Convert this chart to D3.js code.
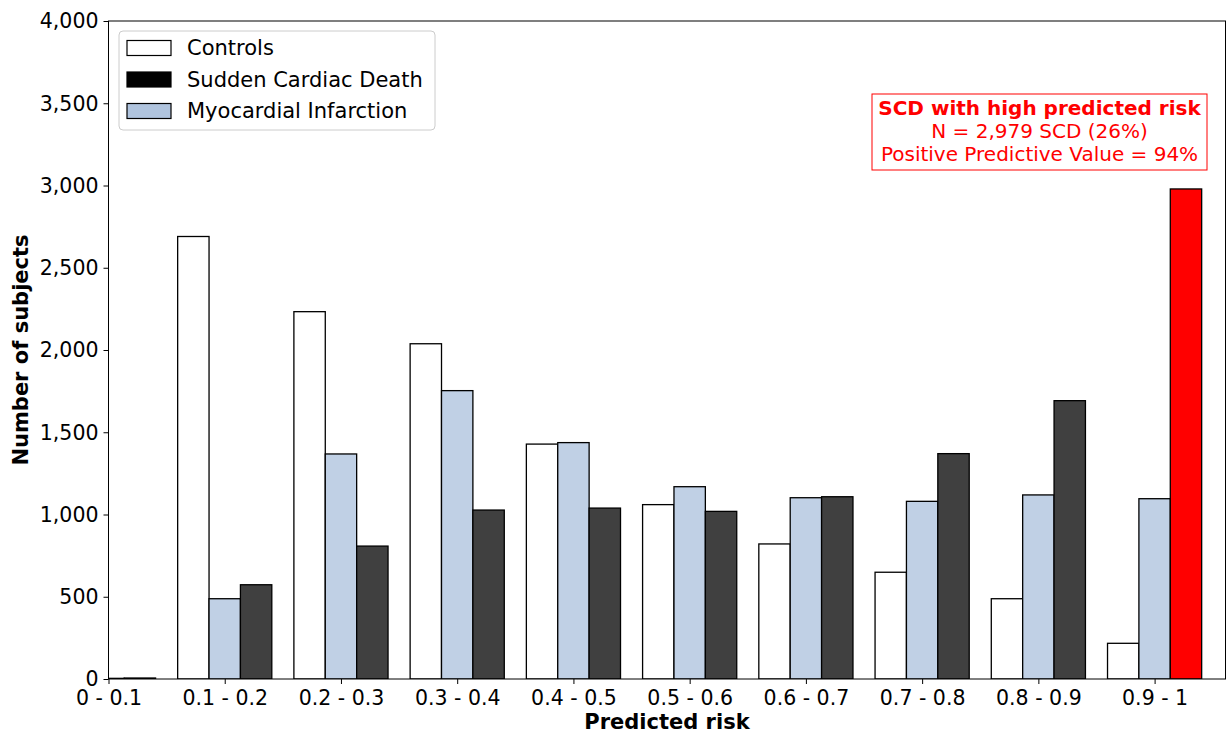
<!DOCTYPE html>
<html>
<head>
<meta charset="utf-8">
<script src="https://cdn.jsdelivr.net/npm/d3@7"></script>
<style>
  html, body { margin: 0; padding: 0; background: #ffffff; }
  svg { display: block; font-family: "DejaVu Sans", sans-serif; }
</style>
</head>
<body>
<svg id="chart" width="1229" height="736"></svg>
<script>
// Risk bins and subject counts per group
const categories = ["0 - 0.1", "0.1 - 0.2", "0.2 - 0.3", "0.3 - 0.4", "0.4 - 0.5",
                    "0.5 - 0.6", "0.6 - 0.7", "0.7 - 0.8", "0.8 - 0.9", "0.9 - 1"];
const controls = [6, 2690, 2233, 2038, 1428, 1060, 821, 649, 488, 217];
const infarction = [4, 488, 1368, 1753, 1437, 1169, 1102, 1080, 1119, 1096];
const suddenDeath = [6, 573, 808, 1027, 1039, 1019, 1108, 1370, 1692, 2979];
const yTicks = [0, 500, 1000, 1500, 2000, 2500, 3000, 3500, 4000];
const seriesNames = ["Controls", "Sudden Cardiac Death", "Myocardial Infarction"];
const noteLines = ["SCD with high predicted risk", "N = 2,979 SCD (26%)", "Positive Predictive Value = 94%"];

const svg = d3.select("#chart");
const plot = { left: 108.5, right: 1225.5, top: 21, bottom: 679 };

const x = d3.scaleLinear().domain([0, 9.61]).range([plot.left, plot.right]);
const y = d3.scaleLinear().domain([0, 4000]).range([plot.bottom, plot.top]);
const barW = 0.27;

svg.append("defs").append("clipPath").attr("id", "plotClip")
  .append("rect")
  .attr("x", plot.left).attr("y", plot.top)
  .attr("width", plot.right - plot.left).attr("height", plot.bottom - plot.top);

const bars = svg.append("g").attr("clip-path", "url(#plotClip)");

const groups = [
  { values: controls, offset: -barW, fill: (i) => "#ffffff" },
  { values: infarction, offset: 0, fill: (i) => "#c0d0e5" },
  { values: suddenDeath, offset: barW, fill: (i) => i === categories.length - 1 ? "#ff0000" : "#404040" }
];

groups.forEach(g => {
  bars.selectAll(null)
    .data(g.values)
    .enter().append("rect")
    .attr("x", (d, i) => x(i + g.offset - barW / 2))
    .attr("width", (d, i) => x(i + g.offset + barW / 2) - x(i + g.offset - barW / 2))
    .attr("y", d => y(d))
    .attr("height", d => y(0) - y(d))
    .attr("fill", (d, i) => g.fill(i))
    .attr("stroke", "#000")
    .attr("stroke-width", 1.3);
});

// Axes
const xAxis = d3.axisBottom(x)
  .tickValues(d3.range(categories.length))
  .tickFormat(i => categories[i])
  .tickSize(5).tickPadding(6);
const yAxis = d3.axisLeft(y)
  .tickValues(yTicks)
  .tickFormat(d3.format(","))
  .tickSize(5).tickPadding(5);

const gx = svg.append("g").attr("transform", `translate(0,${plot.bottom})`).call(xAxis);
const gy = svg.append("g").attr("transform", `translate(${plot.left},0)`).call(yAxis);
[gx, gy].forEach(g => {
  g.select(".domain").remove();
  g.selectAll("text").attr("font-size", 20.5).attr("fill", "#000").attr("font-family", "DejaVu Sans");
  g.selectAll("line").attr("stroke", "#000");
});
gx.selectAll("text").attr("dy", "0.72em");
gy.selectAll("text").attr("dy", "0.34em");

// Frame
svg.append("rect")
  .attr("x", plot.left).attr("y", plot.top)
  .attr("width", plot.right - plot.left).attr("height", plot.bottom - plot.top)
  .attr("fill", "none").attr("stroke", "#000").attr("stroke-width", 1);

// Axis titles
svg.append("text")
  .attr("x", (plot.left + plot.right) / 2).attr("y", 729)
  .attr("text-anchor", "middle")
  .attr("font-size", 21).attr("font-weight", "bold")
  .text("Predicted risk");
svg.append("text")
  .attr("transform", `translate(28,${(plot.top + plot.bottom) / 2}) rotate(-90)`)
  .attr("text-anchor", "middle")
  .attr("font-size", 21).attr("font-weight", "bold")
  .text("Number of subjects");

// Legend
const legend = svg.append("g").attr("transform", "translate(119,31)");
legend.append("rect")
  .attr("width", 316).attr("height", 99).attr("rx", 4)
  .attr("fill", "#fff").attr("fill-opacity", 0.8)
  .attr("stroke", "#cccccc").attr("stroke-width", 1);
const legendFills = ["#ffffff", "#000000", "#b0c4de"];
seriesNames.forEach((name, i) => {
  const row = legend.append("g").attr("transform", `translate(0,${17 + i * 31.5})`);
  row.append("rect")
    .attr("x", 8).attr("y", -7.5).attr("width", 44).attr("height", 15)
    .attr("fill", legendFills[i]).attr("stroke", "#000").attr("stroke-width", 1.2);
  row.append("text")
    .attr("x", 68).attr("y", 0).attr("dy", "0.35em")
    .attr("font-size", 21).text(name);
});

// Annotation box
const note = svg.append("g");
note.append("rect")
  .attr("x", 872).attr("y", 94).attr("width", 335).attr("height", 76)
  .attr("fill", "#fff").attr("stroke", "#ff0000").attr("stroke-width", 1);
noteLines.forEach((t, i) => {
  note.append("text")
    .attr("x", 1039.5).attr("y", 115 + i * 23)
    .attr("text-anchor", "middle")
    .attr("font-size", 20)
    .attr("font-weight", i === 0 ? "bold" : "normal")
    .attr("fill", "#ff0000")
    .text(t);
});
</script>
</body>
</html>
